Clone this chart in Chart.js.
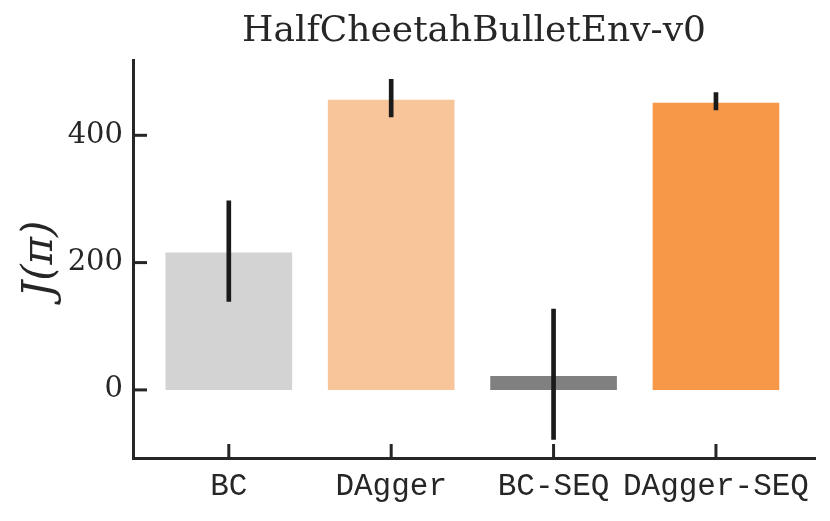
<!DOCTYPE html>
<html>
<head>
<meta charset="utf-8">
<script src="https://cdn.jsdelivr.net/npm/chart.js@4.4.1/dist/chart.umd.min.js"></script>
<style>
  html, body { margin: 0; padding: 0; background: #fff; }
  #wrap { width: 830px; height: 521px; }
</style>
</head>
<body>
<div id="wrap"><canvas id="barChart" width="830" height="521"></canvas></div>
<script>
// values
const methods = ['BC', 'DAgger', 'BC-SEQ', 'DAgger-SEQ'];
const meanReturn = [216, 456, 22, 451];
const errLow = [139, 429, -78, 440];
const errHigh = [297, 488, 127, 467];
const barColors = ['#d3d3d3', '#f8c59b', '#808080', '#f79848'];
const yTicks = [0, 200, 400];

const ink = '#262626';
const positions = methods.map((m, i) => i);

// inward pointing tick marks, like the matplotlib style in the original
const inwardTicks = {
  id: 'inwardTicks',
  afterDatasetsDraw(chart) {
    const ctx = chart.ctx;
    const x = chart.scales.x, y = chart.scales.y;
    ctx.save();
    ctx.strokeStyle = ink;
    ctx.lineWidth = 3;
    y.ticks.forEach(t => {
      const py = y.getPixelForValue(t.value);
      ctx.beginPath();
      ctx.moveTo(y.right, py);
      ctx.lineTo(y.right + 14, py);
      ctx.stroke();
    });
    x.ticks.forEach(t => {
      const px = x.getPixelForValue(t.value);
      ctx.beginPath();
      ctx.moveTo(px, x.top);
      ctx.lineTo(px, x.top - 14);
      ctx.stroke();
    });
    ctx.restore();
  }
};

new Chart(document.getElementById('barChart'), {
  type: 'bar',
  data: {
    labels: positions,
    datasets: [
      {
        label: 'J(pi)',
        data: positions.map((p, i) => ({ x: p, y: meanReturn[i] })),
        backgroundColor: barColors,
        barPercentage: 0.78,
        categoryPercentage: 1,
        grouped: false,
        order: 2
      },
      {
        label: 'error',
        data: positions.map((p, i) => ({ x: p, y: [errLow[i], errHigh[i]] })),
        backgroundColor: '#1a1a1a',
        barThickness: 4,
        grouped: false,
        order: 1
      }
    ]
  },
  options: {
    responsive: false,
    devicePixelRatio: 1,
    animation: false,
    layout: { padding: { left: 0, right: 15, top: 0, bottom: 0 } },
    plugins: {
      legend: { display: false },
      tooltip: { enabled: false },
      title: {
        display: true,
        text: 'HalfCheetahBulletEnv-v0',
        fullSize: false,
        color: ink,
        font: { family: 'DejaVu Serif', size: 36, weight: 'normal' },
        padding: { top: 10, bottom: 7 }
      }
    },
    scales: {
      x: {
        type: 'linear',
        min: -0.59,
        max: 3.61,
        offset: false,
        afterBuildTicks: s => { s.ticks = positions.map(v => ({ value: v })); },
        afterFit: s => { s.height = 63; },
        grid: { display: false, drawTicks: false },
        border: { display: true, color: ink, width: 3 },
        ticks: {
          color: ink,
          padding: 10,
          autoSkip: false,
          maxRotation: 0,
          font: { family: 'Liberation Mono', size: 31 },
          callback: v => methods[v]
        }
      },
      y: {
        min: -107,
        max: 518,
        afterBuildTicks: s => { s.ticks = yTicks.map(v => ({ value: v })); },
        afterFit: s => { s.width = 133; },
        grid: { display: false, drawTicks: false },
        border: { display: true, color: ink, width: 3 },
        ticks: {
          color: ink,
          padding: 10,
          font: { family: 'DejaVu Serif', size: 29 }
        },
        title: {
          display: true,
          text: 'J(π)',
          color: ink,
          padding: { top: 16, bottom: 0 },
          font: { family: 'DejaVu Serif', size: 42, style: 'italic' }
        }
      }
    }
  },
  plugins: [inwardTicks]
});
</script>
</body>
</html>
